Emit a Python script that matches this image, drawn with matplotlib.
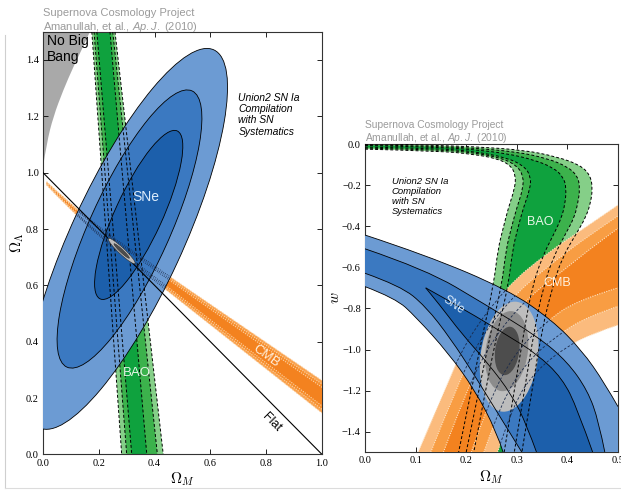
"""Union2 SN Ia compilation: confidence regions in (Omega_M, Omega_Lambda) and (Omega_M, w)."""

import numpy as np
import matplotlib
matplotlib.use("Agg")
import matplotlib.pyplot as plt
from matplotlib.path import Path
from matplotlib.patches import PathPatch, Ellipse
from matplotlib.lines import Line2D

plt.rcParams.update({
    "mathtext.fontset": "custom",
    "mathtext.rm": "Liberation Sans",
    "mathtext.it": "Liberation Sans:italic",
})

SANS = "Liberation Sans"
SERIF = "Liberation Serif"
TITLE_GREY = "#9b9b9b"

BLUES = ["#6c9bd3", "#3b79c1", "#1c5fab"]       # 99.7, 95.4, 68.3 %
GREENS = ["#85cf88", "#3cb24c", "#0fa23e"]
ORANGES = ["#fbbb7d", "#f89d43", "#f3821f"]
ORANGES_OL = ["#f9a24e", "#f68f2f", "#f3821f"]
GREYS = ["#bdbdbd", "#8c8c8c", "#4d4d4d"]

# ---------------- left panel: Omega_M vs Omega_Lambda ----------------
OL_XTICKS = [0.0, 0.2, 0.4, 0.6, 0.8, 1.0]
OL_YTICKS = [0.0, 0.2, 0.4, 0.6, 0.8, 1.0, 1.2, 1.4]

NO_BIG_BANG = [(0.0, 1.02), (0.013, 1.104), (0.037, 1.199), (0.073, 1.294),
               (0.109, 1.376), (0.144, 1.447), (0.168, 1.5)]
NO_BIG_BANG_AXIS = [(0.0, 1.02), (0.0, 1.5)]

FLAT_X = [0.0, 1.0]
FLAT_Y = [1.0, 0.0]

# SNe ellipses, outer -> inner
SNE_OL_CENTER = [(0.300, 0.765), (0.310, 0.800), (0.343, 0.850)]
SNE_OL_WIDTH = [1.48, 1.078, 0.657]
SNE_OL_HEIGHT = [0.40, 0.287, 0.169]
SNE_OL_ANGLE = [65.0, 65.4, 65.1]

# BAO band edges, outer -> inner
BAO_OL_LEFT = [[(0.175, 1.5), (0.282, 0.0)],
               [(0.183, 1.5), (0.300, 0.0)],
               [(0.193, 1.5), (0.318, 0.0)]]
BAO_OL_RIGHT = [[(0.258, 1.5), (0.431, 0.0)],
                [(0.250, 1.5), (0.410, 0.0)],
                [(0.240, 1.5), (0.372, 0.0)]]

# CMB band edges, outer -> inner
CMB_OL_UPPER = [[(0.013, 0.968), (0.15, 0.840), (0.44, 0.640), (1.0, 0.262)],
                [(0.013, 0.966), (0.15, 0.836), (0.44, 0.633), (1.0, 0.250)],
                [(0.013, 0.964), (0.15, 0.832), (0.44, 0.626), (1.0, 0.238)]]
CMB_OL_LOWER = [[(0.013, 0.956), (0.15, 0.812), (0.44, 0.585), (1.0, 0.147)],
                [(0.013, 0.958), (0.15, 0.816), (0.44, 0.592), (1.0, 0.160)],
                [(0.013, 0.960), (0.15, 0.820), (0.44, 0.600), (1.0, 0.172)]]

# combined fit, outer -> inner
JOINT_OL_CENTER = (0.282, 0.722)
JOINT_OL_WIDTH = [0.13, 0.075]
JOINT_OL_HEIGHT = [0.022, 0.011]
JOINT_OL_ANGLE = -43.0

# ---------------- right panel: Omega_M vs w ----------------
W_XTICKS = [0.0, 0.1, 0.2, 0.3, 0.4, 0.5]
W_YTICKS = [-1.4, -1.2, -1.0, -0.8, -0.6, -0.4, -0.2, 0.0]

# SNe band edges, from the upper-right outer edge to the lower-left outer edge
SNE_W_EDGES = [
    [(0.0, -0.443), (0.12, -0.54), (0.283, -0.71), (0.369, -0.856), (0.428, -1.002),
     (0.474, -1.165), (0.50, -1.278)],
    [(0.0, -0.51), (0.12, -0.61), (0.237, -0.78), (0.343, -0.94), (0.40, -1.06),
     (0.44, -1.2), (0.462, -1.35), (0.474, -1.5)],
    [(0.12, -0.70), (0.20, -0.81), (0.28, -0.93), (0.339, -1.02), (0.39, -1.14),
     (0.42, -1.29), (0.45, -1.5)],
    [(0.12, -0.70), (0.15, -0.79), (0.19, -0.92), (0.244, -1.07), (0.29, -1.22),
     (0.32, -1.37), (0.339, -1.5)],
    [(0.0, -0.629), (0.07, -0.69), (0.12, -0.79), (0.17, -0.95), (0.215, -1.12),
     (0.26, -1.30), (0.31, -1.5)],
    [(0.0, -0.694), (0.06, -0.75), (0.10, -0.84), (0.165, -1.018), (0.217, -1.197),
     (0.26, -1.40), (0.273, -1.5)],
]

BAO_W_LEFT = [
    [(0.0, -0.025), (0.148, -0.034), (0.214, -0.050), (0.260, -0.070), (0.287, -0.102),
     (0.298, -0.151), (0.296, -0.216), (0.283, -0.313), (0.273, -0.41), (0.263, -0.508),
     (0.254, -0.686), (0.235, -0.9), (0.21, -1.2), (0.185, -1.5)],
    [(0.0, -0.020), (0.148, -0.028), (0.214, -0.042), (0.270, -0.068), (0.300, -0.105),
     (0.313, -0.155), (0.312, -0.22), (0.300, -0.31), (0.289, -0.41), (0.279, -0.51),
     (0.270, -0.69), (0.250, -0.9), (0.225, -1.2), (0.200, -1.5)],
    [(0.0, -0.015), (0.148, -0.022), (0.214, -0.036), (0.280, -0.066), (0.315, -0.108),
     (0.328, -0.16), (0.326, -0.22), (0.313, -0.31), (0.302, -0.41), (0.292, -0.51),
     (0.283, -0.69), (0.263, -0.9), (0.238, -1.2), (0.215, -1.5)],
]
BAO_W_RIGHT = [
    [(0.0, 0.005), (0.148, -0.008), (0.214, -0.013), (0.313, -0.029), (0.379, -0.062),
     (0.425, -0.102), (0.445, -0.151), (0.450, -0.216), (0.445, -0.297), (0.435, -0.362),
     (0.420, -0.427), (0.39, -0.55), (0.37, -0.7), (0.35, -0.9), (0.33, -1.2), (0.31, -1.5)],
    [(0.0, -0.003), (0.148, -0.012), (0.214, -0.020), (0.300, -0.038), (0.360, -0.070),
     (0.400, -0.110), (0.420, -0.155), (0.425, -0.216), (0.420, -0.297), (0.413, -0.36),
     (0.398, -0.43), (0.372, -0.55), (0.352, -0.7), (0.335, -0.9), (0.315, -1.2), (0.295, -1.5)],
    [(0.0, -0.007), (0.148, -0.016), (0.214, -0.027), (0.280, -0.046), (0.335, -0.078),
     (0.372, -0.115), (0.392, -0.16), (0.398, -0.216), (0.395, -0.297), (0.388, -0.36),
     (0.375, -0.43), (0.350, -0.55), (0.330, -0.7), (0.315, -0.9), (0.295, -1.2), (0.275, -1.5)],
]

CMB_W_EDGES = [
    [(0.105, -1.5), (0.155, -1.213), (0.2, -0.954), (0.28, -0.694), (0.359, -0.532),
     (0.438, -0.402), (0.5, -0.297)],
    [(0.13, -1.5), (0.178, -1.2), (0.228, -0.94), (0.30, -0.72), (0.38, -0.56),
     (0.44, -0.45), (0.5, -0.35)],
    [(0.155, -1.5), (0.20, -1.2), (0.252, -0.95), (0.32, -0.75), (0.40, -0.60),
     (0.45, -0.50), (0.5, -0.41)],
    [(0.21, -1.5), (0.245, -1.25), (0.295, -1.02), (0.36, -0.86), (0.42, -0.76), (0.5, -0.70)],
    [(0.235, -1.5), (0.27, -1.25), (0.32, -1.06), (0.38, -0.93), (0.44, -0.84), (0.5, -0.79)],
    [(0.262, -1.5), (0.293, -1.262), (0.339, -1.1), (0.398, -0.986), (0.451, -0.921), (0.5, -0.881)],
]

JOINT_W_CENTER = [(0.285, -1.035), (0.280, -1.008), (0.281, -1.007)]
JOINT_W_WIDTH = [0.114, 0.084, 0.048]
JOINT_W_HEIGHT = [0.536, 0.39, 0.236]
JOINT_W_ANGLE = -2.5


def _spline_parts(pts):
    """Quadratic B-spline segments through the read points (first/last kept)."""
    pts = [np.asarray(p, float) for p in pts]
    if len(pts) == 2:
        return [pts[1]], [Path.LINETO]
    verts, codes = [], []
    for i in range(1, len(pts) - 1):
        end = pts[i + 1] if i == len(pts) - 2 else (pts[i] + pts[i + 1]) / 2
        verts += [pts[i], end]
        codes += [Path.CURVE3, Path.CURVE3]
    return verts, codes


def curve(pts):
    v, c = _spline_parts(pts)
    return Path([np.asarray(pts[0], float)] + v, [Path.MOVETO] + c)


def band(first, second, via=()):
    """Closed region between two edges (second one walked backwards)."""
    back = list(second)[::-1]
    v1, c1 = _spline_parts(first)
    v2, c2 = _spline_parts(back)
    verts = [np.asarray(first[0], float)] + v1
    codes = [Path.MOVETO] + c1
    for p in list(via) + [back[0]]:
        verts.append(np.asarray(p, float))
        codes.append(Path.LINETO)
    verts += v2 + [verts[0]]
    codes += c2 + [Path.CLOSEPOLY]
    return Path(verts, codes)


def style_axes(ax, xticks, yticks):
    ax.set_xticks(xticks)
    ax.set_yticks(yticks)
    ax.tick_params(direction="in", length=3.5, width=0.6, top=True, right=True,
                   labelsize=7.5, pad=3)
    for lab in ax.get_xticklabels() + ax.get_yticklabels():
        lab.set_fontfamily(SERIF)
    for sp in ax.spines.values():
        sp.set_linewidth(0.8)
        sp.set_color("#333333")


fig = plt.figure(figsize=(6.21, 4.97), dpi=100)

# page edge lines of the scanned figure
fig.add_artist(Line2D([5 / 621, 5 / 621], [1 - 35 / 497, 1 - 488 / 497],
                      color="#cfcfcf", lw=0.8))
fig.add_artist(Line2D([5 / 621, 1.0], [1 - 488 / 497, 1 - 488 / 497],
                      color="#dcdcdc", lw=0.8))

# ================= left panel =================
ax1 = fig.add_axes([43 / 621, 1 - 454.4 / 497, 279 / 621, 422.6 / 497])
ax1.set_xlim(0, 1)
ax1.set_ylim(0, 1.5)

ax1.add_patch(PathPatch(band(NO_BIG_BANG, NO_BIG_BANG_AXIS),
                        fc="#a9a9a9", ec="none", zorder=1))

for i in range(3):
    ax1.add_patch(PathPatch(band(BAO_OL_LEFT[i], BAO_OL_RIGHT[i]),
                            fc=GREENS[i], ec="none", zorder=2))
for i in range(3):
    ax1.add_patch(PathPatch(band(CMB_OL_UPPER[i], CMB_OL_LOWER[i]),
                            fc=ORANGES_OL[i], ec="none", zorder=3))

sne_outer = None
for i in range(3):
    e = Ellipse(SNE_OL_CENTER[i], SNE_OL_WIDTH[i], SNE_OL_HEIGHT[i],
                angle=SNE_OL_ANGLE[i], fc=BLUES[i], ec="none", zorder=4)
    ax1.add_patch(e)
    if i == 0:
        sne_outer = e
    ax1.add_patch(Ellipse(SNE_OL_CENTER[i], SNE_OL_WIDTH[i], SNE_OL_HEIGHT[i],
                          angle=SNE_OL_ANGLE[i], fill=False, ec="k", lw=0.6, zorder=5))

for edges in BAO_OL_LEFT + BAO_OL_RIGHT:
    ax1.add_patch(PathPatch(curve(edges), fill=False, ec="k", lw=0.7,
                            ls=(0, (3, 2.2)), zorder=5.5))
for edges in CMB_OL_UPPER + CMB_OL_LOWER:
    ax1.add_patch(PathPatch(curve(edges), fill=False, ec="#fcd2a4", lw=0.8,
                            ls=(0, (1, 1.2)), zorder=3.5))
    hidden = PathPatch(curve(edges), fill=False, ec="#1b2a4a", lw=0.6,
                       ls=(0, (1, 1.5)), zorder=5.5)
    ax1.add_patch(hidden)
    hidden.set_clip_path(sne_outer)

ax1.plot(FLAT_X, FLAT_Y, color="k", lw=0.8, zorder=6)

for i in range(2):
    ax1.add_patch(Ellipse(JOINT_OL_CENTER, JOINT_OL_WIDTH[i], JOINT_OL_HEIGHT[i],
                          angle=JOINT_OL_ANGLE, fc=GREYS[0] if i == 0 else GREYS[2],
                          ec="#333333", lw=0.4, zorder=7))

ax1.text(0.015, 1.492, "No Big\nBang", fontsize=10, family=SANS, va="top", ha="left",
         zorder=8)
ax1.text(0.70, 1.283, "Union2 SN Ia\nCompilation\nwith SN\nSystematics", fontsize=7.5,
         family=SANS, style="italic", va="top", ha="left", linespacing=1.15, zorder=8)
ax1.text(0.37, 0.915, "SNe", fontsize=10, family=SANS, color="#dcecfb", ha="center",
         va="center", zorder=8)
ax1.text(0.335, 0.29, "BAO", fontsize=9.5, family=SANS, color="#e8f6e8", ha="center",
         va="center", zorder=8)
ax1.text(0.80, 0.35, "CMB", fontsize=9.5, family=SANS, color="#fff0dc", ha="center",
         va="center", rotation=-36, zorder=8)
ax1.text(0.82, 0.115, "Flat", fontsize=9, family=SANS, color="k", ha="center",
         va="center", rotation=-45, zorder=8)

style_axes(ax1, OL_XTICKS, OL_YTICKS)
ax1.set_xlabel(r"$\Omega_M$", fontsize=11, math_fontfamily="cm", labelpad=2)
ax1.set_ylabel(r"$\Omega_\Lambda$", fontsize=11, math_fontfamily="cm", labelpad=0)

fig.text(43 / 621, 1 - 16.5 / 497, "Supernova Cosmology Project", fontsize=8,
         family=SANS, color=TITLE_GREY, va="baseline")
fig.text(43 / 621, 1 - 30 / 497, r"Amanullah, et al., $\mathit{Ap.J.}$ (2010)",
         fontsize=8, family=SANS, color=TITLE_GREY, va="baseline")

# ================= right panel =================
ax2 = fig.add_axes([365 / 621, 1 - 452.25 / 497, 253 / 621, 308.25 / 497])
ax2.set_xlim(0, 0.5)
ax2.set_ylim(-1.5, 0)

for i in range(3):
    ax2.add_patch(PathPatch(band(BAO_W_LEFT[i], BAO_W_RIGHT[i]),
                            fc=GREENS[i], ec="none", zorder=2))

cmb_pairs = [(0, 5), (1, 4), (2, 3)]
for lvl, (a, b) in enumerate(cmb_pairs):
    ax2.add_patch(PathPatch(band(CMB_W_EDGES[a], CMB_W_EDGES[b]),
                            fc=ORANGES[lvl], ec="none", zorder=3))

sne_light = PathPatch(band(SNE_W_EDGES[0], SNE_W_EDGES[5],
                           via=[(0.56, -1.278), (0.56, -1.56), (0.273, -1.56)]),
                      fc=BLUES[0], ec="none", zorder=4)
ax2.add_patch(sne_light)
ax2.add_patch(PathPatch(band(SNE_W_EDGES[1], SNE_W_EDGES[4]),
                        fc=BLUES[1], ec="none", zorder=4.1))
ax2.add_patch(PathPatch(band(SNE_W_EDGES[2], SNE_W_EDGES[3]),
                        fc=BLUES[2], ec="none", zorder=4.2))

for i in range(3):
    ax2.add_patch(Ellipse(JOINT_W_CENTER[i], JOINT_W_WIDTH[i], JOINT_W_HEIGHT[i],
                          angle=JOINT_W_ANGLE, fc=GREYS[i], ec="none", zorder=4.5))

for edges in SNE_W_EDGES:
    ax2.add_patch(PathPatch(curve(edges), fill=False, ec="k", lw=0.6, zorder=5))

for edges in BAO_W_LEFT + BAO_W_RIGHT:
    ax2.add_patch(PathPatch(curve(edges), fill=False, ec="k", lw=0.7,
                            ls=(0, (3, 2.2)), zorder=5.5))
for edges in CMB_W_EDGES:
    ax2.add_patch(PathPatch(curve(edges), fill=False, ec="#fde3c4", lw=0.8,
                            ls=(0, (1, 1.2)), zorder=3.5))
    hidden = PathPatch(curve(edges), fill=False, ec="#1b2a4a", lw=0.6,
                       ls=(0, (3, 2.2)), zorder=5.5)
    ax2.add_patch(hidden)
    hidden.set_clip_path(sne_light)

ax2.text(0.053, -0.16, "Union2 SN Ia\nCompilation\nwith SN\nSystematics", fontsize=6.8,
         family=SANS, style="italic", va="top", ha="left", linespacing=1.15, zorder=8)
ax2.text(0.175, -0.783, "SNe", fontsize=8.5, family=SANS, color="#dcecfb", ha="center",
         va="center", rotation=-35, zorder=8)
ax2.text(0.346, -0.378, "BAO", fontsize=9, family=SANS, color="#e8f6e8", ha="center",
         va="center", zorder=8)
ax2.text(0.379, -0.678, "CMB", fontsize=9, family=SANS, color="#fff0dc", ha="center",
         va="center", zorder=8)

style_axes(ax2, W_XTICKS, W_YTICKS)
ax2.set_xlabel(r"$\Omega_M$", fontsize=11, math_fontfamily="cm", labelpad=2)
ax2.set_ylabel(r"$w$", fontsize=11, math_fontfamily="cm", labelpad=0)

fig.text(365 / 621, 1 - 127.5 / 497, "Supernova Cosmology Project", fontsize=7.4,
         family=SANS, color=TITLE_GREY, va="baseline")
fig.text(365 / 621, 1 - 141 / 497, r"Amanullah, et al., $\mathit{Ap.J.}$ (2010)",
         fontsize=7.4, family=SANS, color=TITLE_GREY, va="baseline")

fig.savefig("out.png", dpi=100)
